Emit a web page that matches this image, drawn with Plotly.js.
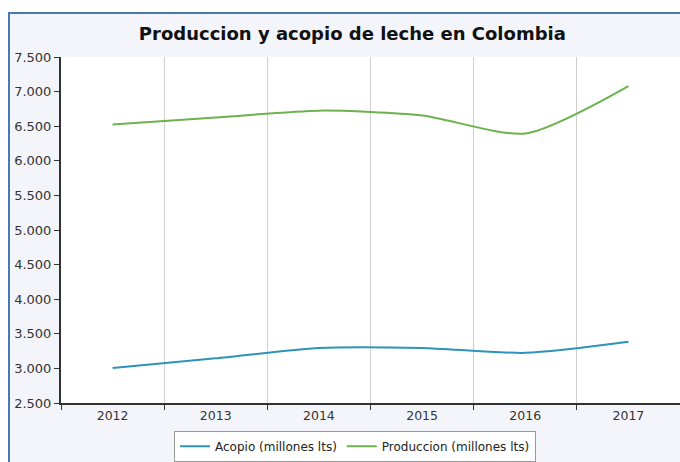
<!DOCTYPE html>
<html>
<head>
<meta charset="utf-8">
<script src="https://cdn.plot.ly/plotly-3.0.1.min.js"></script>
<style>
html,body{margin:0;padding:0;background:#ffffff;}
#frame{position:absolute;left:8px;top:12px;width:670px;height:448px;border-top:2px solid #4a78b0;border-left:2px solid #4a78b0;background:#f4f5fb;}
#chart{width:670px;height:448px;}
</style>
</head>
<body>
<div id="frame"><div id="chart"></div></div>
<script>
const years = ['2012','2013','2014','2015','2016','2017'];
const acopio = [3005, 3145, 3295, 3295, 3225, 3385];
const produccion = [6525, 6625, 6725, 6655, 6395, 7080];
const yTicks = [2500,3000,3500,4000,4500,5000,5500,6000,6500,7000,7500];

const traces = [
  {x: years, y: acopio, type: 'scatter', mode: 'lines', name: 'Acopio (millones lts)',
   line: {color: '#2f93b8', width: 2, shape: 'spline', smoothing: 0.7}},
  {x: years, y: produccion, type: 'scatter', mode: 'lines', name: 'Produccion (millones lts)',
   line: {color: '#6cb24e', width: 2, shape: 'spline', smoothing: 0.7}}
];

const layout = {
  width: 670, height: 448,
  paper_bgcolor: '#f4f5fb',
  plot_bgcolor: '#ffffff',
  separators: ',.',
  font: {family: 'DejaVu Sans, Verdana, sans-serif', size: 12, color: '#333333'},
  margin: {l: 51, r: 0, t: 43, b: 53},
  title: {text: '<b>Produccion y acopio de leche en Colombia</b>', x: 0.511, xanchor: 'center', y: 0.955, yanchor: 'middle',
          font: {family: 'DejaVu Sans, Verdana, sans-serif', size: 18, color: '#111111'}},
  xaxis: {type: 'category', tickson: 'boundaries', showgrid: true, gridcolor: '#cfcfcf', gridwidth: 1,
          ticks: 'outside', ticklen: 5, tickcolor: '#333', showline: true, linecolor: '#333', linewidth: 2,
          range: [-0.5, 5.5], fixedrange: true, tickfont: {size: 12.5, color: '#333'}},
  yaxis: {range: [2500, 7500], tickvals: yTicks, tickformat: ',d', showgrid: false, zeroline: false,
          ticks: 'outside', ticklen: 5, tickcolor: '#333', showline: true, linecolor: '#333', linewidth: 2,
          tickfont: {size: 13, color: '#333'}},
  showlegend: true,
  legend: {orientation: 'h', x: 0.475, xanchor: 'center', y: -0.08, yanchor: 'top',
           bgcolor: '#ffffff', bordercolor: '#999999', borderwidth: 1,
           font: {size: 12, color: '#222'}, itemwidth: 30, tracegroupgap: 0}
};

Plotly.newPlot('chart', traces, layout, {displayModeBar: false, staticPlot: true});
</script>
</body>
</html>
